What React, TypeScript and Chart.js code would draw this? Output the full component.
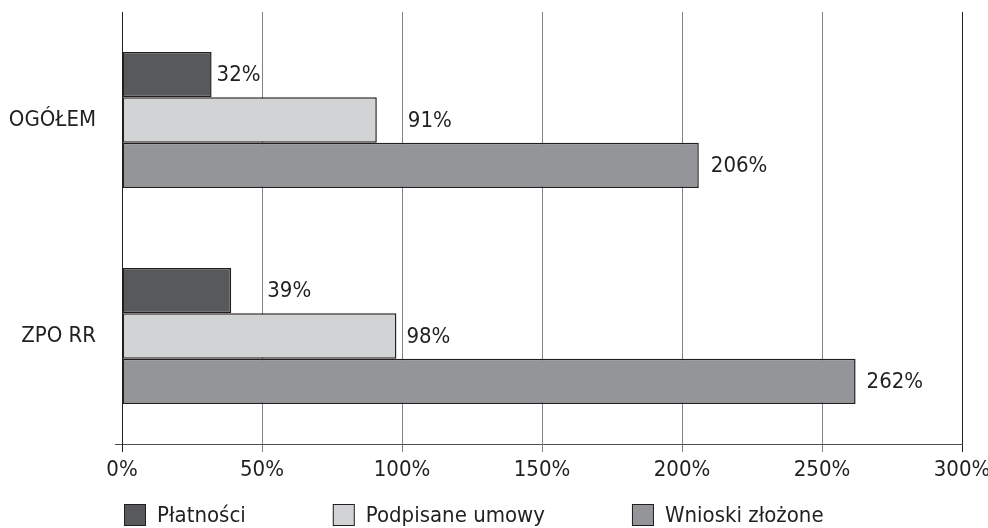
import { useEffect, useRef } from "react";
import { Chart, registerables } from "chart.js";

Chart.register(...registerables);

const categories = ["OGÓŁEM", "ZPO RR"];
const seriesNames = ["Płatności", "Podpisane umowy", "Wnioski złożone"];
const platnosci = [32, 39];
const podpisaneUmowy = [91, 98];
const wnioskiZlozone = [206, 262];
const xTicks = [0, 50, 100, 150, 200, 250, 300];

const FONT = '"Liberation Sans Narrow", "DejaVu Sans Condensed", "Roboto Condensed", sans-serif';
const FONT_SIZE = 22;
const INK = "#231f20";
const GRID = "#808285";
const AXIS = "#4d4d4f";
const fills = ["#58595b", "#d1d3d4", "#939598"];
// extra horizontal room between each bar end and its value label, per series / category
const labelGaps = [
  [5, 36],
  [31, 10],
  [12, 11],
];

const valueLabels = {
  id: "valueLabels",
  afterDatasetsDraw(chart: any) {
    const ctx = chart.ctx;
    ctx.save();
    ctx.font = `${FONT_SIZE}px ${FONT}`;
    ctx.fillStyle = INK;
    ctx.textBaseline = "middle";
    ctx.textAlign = "left";
    chart.data.datasets.forEach((ds: any, di: number) => {
      chart.getDatasetMeta(di).data.forEach((bar: any, i: number) => {
        ctx.fillText(`${ds.data[i]}%`, bar.x + labelGaps[di][i], bar.y + 1);
      });
    });
    ctx.restore();
  },
};

const bottomLegend = {
  id: "bottomLegend",
  afterDraw(chart: any) {
    const { ctx, chartArea } = chart;
    const size = 22;
    const top = chart.height - 24;
    ctx.save();
    ctx.font = `${FONT_SIZE}px ${FONT}`;
    ctx.textBaseline = "middle";
    ctx.textAlign = "left";
    let x = chartArea.left + 2;
    chart.data.datasets.forEach((ds: any) => {
      ctx.fillStyle = ds.backgroundColor;
      ctx.fillRect(x, top, size, size);
      ctx.strokeStyle = INK;
      ctx.lineWidth = 1;
      ctx.strokeRect(x + 0.5, top + 0.5, size - 1, size - 1);
      ctx.fillStyle = INK;
      const tx = x + size + 11;
      ctx.fillText(ds.label, tx, top + size / 2 + 1);
      x = tx + ctx.measureText(ds.label).width + 87;
    });
    ctx.restore();
  },
};

// short outward tick where the horizontal axis meets the vertical one
const axisStub = {
  id: "axisStub",
  afterDraw(chart: any) {
    const { ctx, chartArea } = chart;
    const y = Math.round(chartArea.bottom) + 0.5;
    ctx.save();
    ctx.strokeStyle = AXIS;
    ctx.lineWidth = 1;
    ctx.beginPath();
    ctx.moveTo(chartArea.left - 7, y);
    ctx.lineTo(chartArea.left, y);
    ctx.stroke();
    ctx.restore();
  },
};

export default function App() {
  const ref = useRef<HTMLCanvasElement>(null);

  useEffect(() => {
    const series = [platnosci, podpisaneUmowy, wnioskiZlozone];
    const chart = new Chart(ref.current as HTMLCanvasElement, {
      type: "bar",
      data: {
        labels: categories,
        datasets: series.map((values, i) => ({
          label: seriesNames[i],
          data: values,
          backgroundColor: fills[i],
          borderColor: INK,
          borderWidth: 1.5,
          borderSkipped: false,
          barPercentage: 1,
          categoryPercentage: 0.63,
        })),
      },
      options: {
        indexAxis: "y",
        animation: false,
        responsive: true,
        maintainAspectRatio: false,
        layout: { padding: { top: 12, right: 26, left: 0, bottom: 0 } },
        plugins: {
          legend: { display: false },
          tooltip: { enabled: false },
        },
        scales: {
          x: {
            type: "linear",
            min: 0,
            max: 300,
            afterBuildTicks: (scale: any) => {
              scale.ticks = xTicks.map((v) => ({ value: v }));
            },
            afterFit: (scale: any) => {
              scale.height = 84;
              scale.paddingLeft = 0;
              scale.paddingRight = 0;
            },
            ticks: {
              callback: (v: any) => `${v}%`,
              font: { family: FONT, size: FONT_SIZE },
              color: INK,
              padding: 5,
              maxRotation: 0,
            },
            grid: {
              color: (c: any) =>
                c.tick && (c.tick.value === 0 || c.tick.value === 300) ? INK : GRID,
              lineWidth: 1,
              tickLength: 8,
            },
            border: { color: AXIS, width: 1 },
          },
          y: {
            afterFit: (scale: any) => {
              scale.width = 122;
              scale.paddingTop = 0;
              scale.paddingBottom = 0;
            },
            ticks: {
              font: { family: FONT, size: FONT_SIZE },
              color: INK,
              padding: 26,
            },
            grid: { display: false, drawTicks: false },
            border: { color: INK, width: 1 },
          },
        },
      },
      plugins: [valueLabels, bottomLegend, axisStub],
    } as any);
    return () => chart.destroy();
  }, []);

  return (
    <div style={{ position: "absolute", left: 0, top: 0, width: 988, height: 528 }}>
      <canvas ref={ref} />
    </div>
  );
}
